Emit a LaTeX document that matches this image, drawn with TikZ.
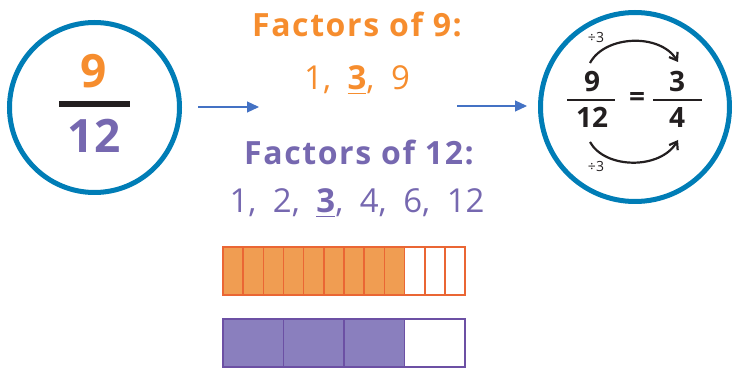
\documentclass[tikz,border=0pt]{standalone}
\usepackage{amsmath}
\usepackage{fontspec}
\setmainfont{Open Sans}
\usepackage{tikz}
\usetikzlibrary{arrows.meta}

\definecolor{ringblue}{RGB}{0,125,182}
\definecolor{arrowblue}{RGB}{68,114,196}
\definecolor{nineorange}{RGB}{246,141,46}
\definecolor{twelvepurple}{RGB}{118,104,176}
\definecolor{barorange}{RGB}{240,157,82}
\definecolor{edgeorange}{RGB}{234,102,52}
\definecolor{barpurple}{RGB}{138,127,190}
\definecolor{edgepurple}{RGB}{108,80,164}
\definecolor{ink}{RGB}{35,31,32}

\newcommand{\sep}{,\hspace{0.5em}}
\newfontfamily\headfont[LetterSpace=5]{Open Sans}

\begin{document}
\begin{tikzpicture}[x=1pt,y=1pt]
        \useasboundingbox (0,0) rectangle (740,375);

        % the two rings
        \begin{scope}[every node/.style={circle,draw=ringblue,line width=5pt,inner sep=0pt}]
        \node[minimum size=170pt] (L) at (94.5,267.5) {};
        \node[minimum size=189pt] (R) at (635,268) {};
        \end{scope}

        % big fraction in the left ring
        \begin{scope}[every node/.style={anchor=base,font=\bfseries\fontsize{46}{46}\selectfont}]
        \node[text=nineorange] (Ln) at (94,287) {9};
        \node[text=twelvepurple] (Ld) at (94,222) {12};
        \end{scope}
        \draw[ink, line width=6pt] (59,271) -- (130,271);

        % equal fractions in the right ring
        \begin{scope}[every node/.style={anchor=base,text=ink,font=\bfseries\fontsize{28}{28}\selectfont}]
        \node (Rn) at (592,283) {9};
        \node (Rd) at (592,247) {12};
        \node (Sn) at (677,283) {3};
        \node (Sd) at (677,247) {4};
        \node[anchor=center] (Eq) at (637,275) {=};
        \end{scope}
        \draw[ink, line width=2.5pt] (567,275) -- (615,275);
        \draw[ink, line width=2.5pt] (653,275) -- (702,275);

        % divide by 3 arrows
        \begin{scope}[every node/.style={anchor=base,text=ink,font=\fontsize{14}{14}\selectfont}]
        \node (Dt) at (596,332) {÷3};
        \node (Db) at (596,203) {÷3};
        \end{scope}
        \coordinate (tA) at (590,312);
        \coordinate (tB) at (678,313);
        \coordinate (bA) at (590,233);
        \coordinate (bB) at (678,235);
        \begin{scope}[>={Straight Barb[length=7pt,width=10pt]}, ink, line width=2.2pt]
        \draw[->] (tA) .. controls (605,340) and (660,342) .. (tB);
        \draw[->] (bA) .. controls (605,206) and (660,205) .. (bB);
        \end{scope}

        % factor lists
        \begin{scope}[every node/.style={anchor=base}]
        \node[text=nineorange,font=\headfont\bfseries\fontsize{32}{32}\selectfont] (F9) at (357,338) {Factors of 9:};
        \node[text=nineorange,font=\fontsize{33}{33}\selectfont] (L9) at (357,285) {1\sep\underline{\textbf{3}}\sep 9};
        \node[text=twelvepurple,font=\headfont\bfseries\fontsize{32}{32}\selectfont] (F12) at (359,210) {Factors of 12:};
        \node[text=twelvepurple,font=\fontsize{33}{33}\selectfont] (L12) at (357,162) {1\sep 2\sep\underline{\textbf{3}}\sep 4\sep 6\sep 12};
        \end{scope}

        % blue arrows between the parts
        \coordinate (a1) at (198,268);
        \coordinate (a2) at (259,268);
        \coordinate (b1) at (457,269);
        \coordinate (b2) at (527,269);
        \begin{scope}[>={Triangle[length=12pt,width=11pt]}, arrowblue, line width=1.2pt]
        \draw[->] (a1) -- (a2);
        \draw[->] (b1) -- (b2);
        \end{scope}

        % bar of twelfths, nine shaded
        \foreach \i in {0,...,11} {
            \ifnum\i<9
                \draw[edgeorange, line width=1.6pt, fill=barorange] (223+\i*20.17,80) rectangle ++(20.17,48);
            \else
                \draw[edgeorange, line width=1.6pt, fill=white] (223+\i*20.17,80) rectangle ++(20.17,48);
            \fi
        }

        % bar of quarters, three shaded
        \foreach \i in {0,...,3} {
            \ifnum\i<3
                \draw[edgepurple, line width=1.6pt, fill=barpurple] (223+\i*60.5,8) rectangle ++(60.5,48);
            \else
                \draw[edgepurple, line width=1.6pt, fill=white] (223+\i*60.5,8) rectangle ++(60.5,48);
            \fi
        }

\end{tikzpicture}
\end{document}
